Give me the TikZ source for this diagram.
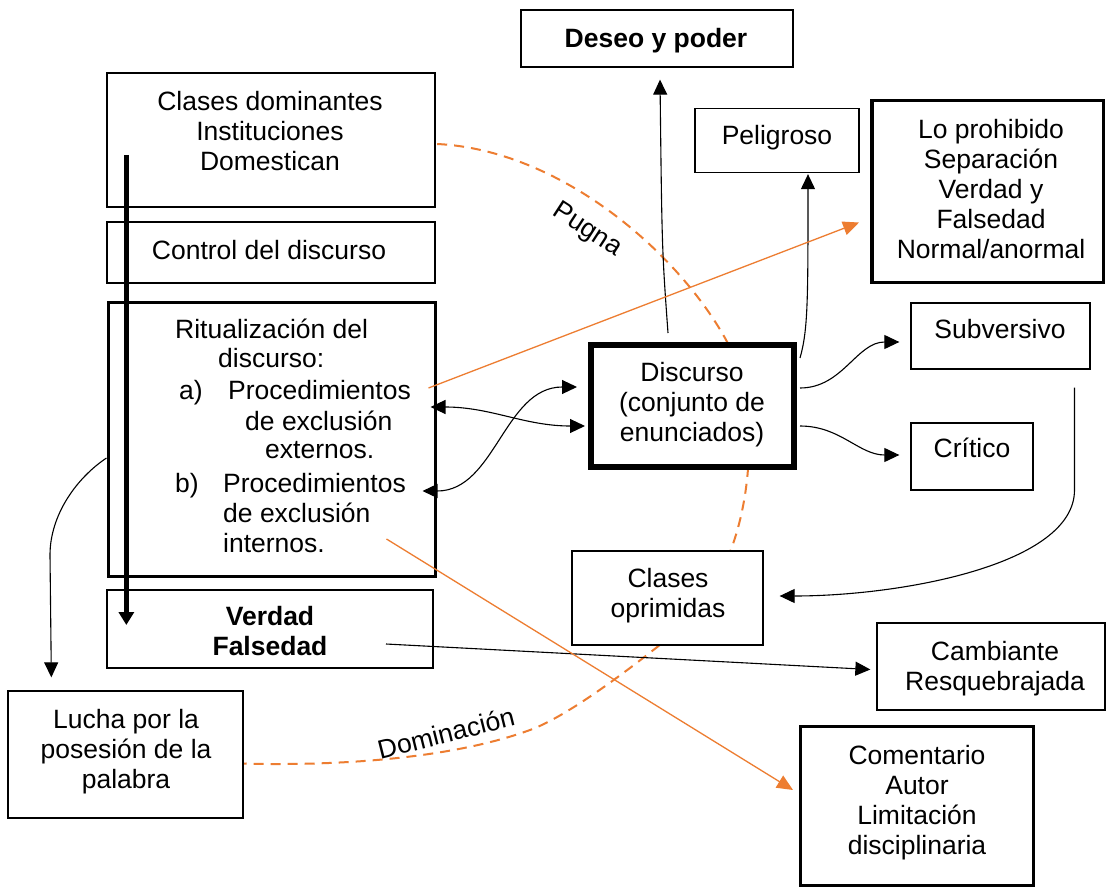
\documentclass[tikz,border=0pt]{standalone}
\usepackage{fontspec}
\setmainfont{Liberation Sans}
\usetikzlibrary{arrows.meta,calc}
\definecolor{accorange}{HTML}{ED7D31}

\begin{document}
\begin{tikzpicture}[x=1pt,y=-1pt,
  box/.style={draw=black, fill=white, line width=1.3pt, inner sep=0pt},
  txt/.style={font=\fontsize{26.5}{30}\selectfont, inner sep=0pt, align=center},
  btxt/.style={font=\fontsize{26.5}{30}\selectfont\bfseries, inner sep=0pt, align=center},
  ltxt/.style={font=\fontsize{26.5}{30}\selectfont, inner sep=0pt, anchor=base west},
  arr/.style={line width=1.1pt, -{Triangle[length=15pt,width=14pt]}},
  darr/.style={line width=1.1pt, {Triangle[length=15pt,width=14pt]}-{Triangle[length=15pt,width=14pt]}},
  oarr/.style={accorange, line width=1.3pt, -{Triangle[length=16pt,width=14pt]}},
  odash/.style={accorange, line width=2pt, dash pattern=on 10pt off 7pt},
]
\useasboundingbox (0,0) rectangle (1106,888);
\fill[white] (0,0) rectangle (1106,888);

% box centres used by the dashed arcs
\path
  (657,38.5)    coordinate (des-c)
  (271,140)     coordinate (cdom-c)
  (667.5,598)   coordinate (opr-c)
  (125.5,754.5) coordinate (luc-c);

% dashed "Pugna" and "Dominacion" arcs, drawn under the boxes
\node[inner sep=0pt, minimum width=328pt, minimum height=134pt] (cdom0) at (cdom-c) {};
\node[inner sep=0pt, minimum width=191pt, minimum height=94pt] (opr0) at (opr-c) {};
\node[inner sep=0pt, minimum width=235pt, minimum height=127pt] (luc0) at (luc-c) {};
\draw[odash] ($(cdom0.east)+(2,4)$) .. controls (560,150) and (676,251) .. (725,338)
  .. controls (759,399) and (753,492) .. ($(opr0.north)+(63,0)$);
\draw[odash] ($(opr0.south)+(-8,0)$) .. controls (628,670) and (567.6,716.3) .. (530,730)
  .. controls (445.5,760.9) and (323.65,765.9) .. ($(luc0.east)+(0,9)$);

% boxes
\node[box, minimum width=272pt, minimum height=57pt] (des) at (des-c) {};
\node[box, minimum width=328pt, minimum height=134pt] (cdom) at (cdom-c) {};
\node[box, minimum width=328pt, minimum height=61pt] (ctrl) at (271,252.5) {};
\node[box, line width=3pt, minimum width=327pt, minimum height=274pt] (rit) at (271.5,439) {};
\node[box, minimum width=326pt, minimum height=78pt] (ver) at (270,629) {};
\node[box, minimum width=235pt, minimum height=127pt] (luc) at (luc-c) {};
\node[box, minimum width=164pt, minimum height=64pt] (pel) at (777,140.5) {};
\node[box, line width=3.5pt, minimum width=231.5pt, minimum height=181.5pt] (pro) at (987.5,191.5) {};
\node[box, line width=6pt, minimum width=203pt, minimum height=122pt] (dis) at (692.5,406) {};
\node[box, minimum width=179pt, minimum height=66pt] (sub) at (1000.5,336) {};
\node[box, minimum width=122pt, minimum height=67pt] (cri) at (972,456.5) {};
\node[box, minimum width=191pt, minimum height=94pt] (opr) at (opr-c) {};
\node[box, minimum width=228pt, minimum height=87pt] (cam) at (991,666.5) {};
\node[box, line width=3pt, minimum width=233pt, minimum height=159pt] (com) at (917,806) {};

% texts
\node[btxt] (des-t) at (656,40.8) {Deseo y poder};
\node[txt] (cdom-t) at (270,131) {Clases dominantes\\Instituciones\\Domestican};
\node[txt] (ctrl-t) at (269,250) {Control del discurso};
\node[ltxt] (rit-1) at (175,338.5) {Ritualización del};
\node[ltxt] (rit-2) at (218,367.5) {discurso:};
\node[ltxt] (rit-3a) at (179,399.5) {a)};
\node[ltxt] (rit-3) at (228,399.5) {Procedimientos};
\node[ltxt] (rit-4) at (245,430.5) {de exclusión};
\node[ltxt] (rit-5) at (265,458.5) {externos.};
\node[ltxt] (rit-6b) at (175,492.5) {b)};
\node[ltxt] (rit-6) at (223,492.5) {Procedimientos};
\node[ltxt] (rit-7) at (223,522.5) {de exclusión};
\node[ltxt] (rit-8) at (223,552.5) {internos.};
\node[btxt] (ver-t) at (270,631.5) {Verdad\\Falsedad};
\node[txt] (luc-t) at (126,751.8) {Lucha por la\\posesión de la\\palabra};
\node[txt] (pel-t) at (777,137.8) {Peligroso};
\node[txt] (pro-t) at (991,189) {Lo prohibido\\Separación\\Verdad y\\Falsedad\\Normal/anormal};
\node[txt] (dis-t) at (692,404.8) {Discurso\\(conjunto de\\enunciados)};
\node[txt] (sub-t) at (1000,329) {Subversivo};
\node[txt] (cri-t) at (972,447.5) {Crítico};
\node[txt] (opr-t) at (668,595.3) {Clases\\oprimidas};
\node[txt] (cam-t) at (995,668.3) {Cambiante\\Resquebrajada};
\node[txt] (com-t) at (917,802.8) {Comentario\\Autor\\Limitación\\disciplinaria};

% arc labels
\node[txt, rotate=-33] (pugna) at (587,230) {Pugna};
\node[txt, rotate=14] (domin) at (446,733) {Dominación};

% heavy downward arrow through the left column
\coordinate (vt) at ($(cdom.west)+(20,15)$);
\coordinate (vb) at ($(ver.west)+(20,-4)$);
\draw[line width=5pt, -{Triangle[length=13pt,width=15pt]}] (vt) -- (vb);

% connectors
\draw[arr] ($(rit.west)+(0,19)$) .. controls +(-30,20) and +(0,-40) .. (50,555)
  -- ($(luc.north west)+(44,-13)$);
\draw[darr] ($(rit.east)+(-6,-32)$) to[out=0,in=180] ($(dis.west)+(-3,20)$);
\draw[darr] ($(rit.east)+(-14,52)$) to[out=0,in=180] ($(dis.west)+(-11,-19)$);
\draw[arr] ($(dis.north)+(-24.5,-9)$) .. controls (662,250) .. ($(des.south)+(3,12)$);
\draw[arr] ($(dis.north east)+(3,16)$) .. controls (808,330) and (808,300) .. ($(pel.south)+(31,1)$);
\draw[arr] ($(dis.east)+(3,-18)$) to[out=0,in=180] ($(sub.west)+(-11,6)$);
\draw[arr] ($(dis.east)+(3,20)$) to[out=0,in=180] ($(cri.west)+(-11,-1.5)$);
\draw[arr] ($(sub.south)+(74,18)$) -- (1074.5,490) .. controls (1074.5,565) and (900,596) .. ($(opr.east)+(16,-2)$);
\draw[arr] ($(ver.center)+(116,15)$) -- ($(cam.west)+(-6,3)$);
\draw[oarr] ($(rit.east)+(-8,-51)$) -- ($(pro.west)+(-11,31)$);
\draw[oarr] ($(rit.east)+(-50,100)$) -- ($(com.west)+(-6,-16)$);
\end{tikzpicture}
\end{document}
